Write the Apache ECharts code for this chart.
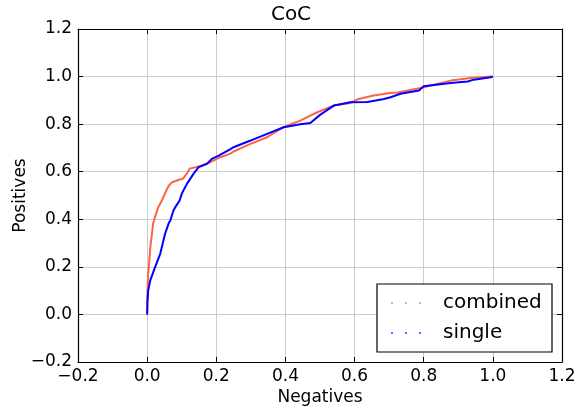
<!DOCTYPE html>
<html>
<head>
<meta charset="utf-8">
<script src="https://cdn.jsdelivr.net/npm/echarts@6/dist/echarts.min.js"></script>
<style>html,body{margin:0;padding:0;background:#fff}#c{width:582px;height:408px}</style>
</head>
<body>
<div id="c"></div>
<script>
var titleText = 'CoC';
var xName = 'Negatives';
var yName = 'Positives';
var seriesNames = ['combined', 'single'];
var axisMin = -0.2, axisMax = 1.2, axisStep = 0.2;

var combinedX = [0, 0.0, 0.001, 0.003, 0.006, 0.009, 0.014, 0.017, 0.023, 0.032, 0.043, 0.052, 0.062, 0.072, 0.09, 0.104, 0.115, 0.123, 0.154, 0.183, 0.202, 0.212, 0.241, 0.25, 0.299, 0.347, 0.394, 0.443, 0.492, 0.539, 0.588, 0.612, 0.655, 0.704, 0.724, 0.791, 0.878, 0.936, 0.994, 1.0];
var combinedY = [0, 0.05, 0.10, 0.17, 0.22, 0.28, 0.34, 0.38, 0.41, 0.45, 0.48, 0.51, 0.54, 0.556, 0.565, 0.571, 0.592, 0.613, 0.624, 0.64, 0.654, 0.661, 0.676, 0.685, 0.717, 0.745, 0.787, 0.815, 0.85, 0.878, 0.889, 0.906, 0.92, 0.931, 0.933, 0.952, 0.983, 0.994, 1.0, 1.0];

var singleX = [0, 0.001, 0.003, 0.009, 0.023, 0.038, 0.045, 0.052, 0.062, 0.067, 0.076, 0.081, 0.094, 0.1, 0.115, 0.134, 0.149, 0.173, 0.187, 0.207, 0.241, 0.25, 0.299, 0.347, 0.395, 0.443, 0.472, 0.501, 0.54, 0.588, 0.637, 0.685, 0.704, 0.733, 0.786, 0.8, 0.878, 0.927, 0.945, 0.994, 1.0];
var singleY = [0, 0.05, 0.10, 0.143, 0.199, 0.256, 0.298, 0.34, 0.382, 0.395, 0.437, 0.45, 0.479, 0.507, 0.549, 0.591, 0.619, 0.633, 0.654, 0.668, 0.695, 0.703, 0.731, 0.759, 0.787, 0.8, 0.805, 0.84, 0.878, 0.892, 0.893, 0.906, 0.913, 0.928, 0.941, 0.959, 0.973, 0.979, 0.987, 0.997, 1.0];

function zip(xs, ys) { return xs.map(function (x, i) { return [x, ys[i]]; }); }
function fmt(v) { var s = v.toFixed(1); return s.charAt(0) === '-' ? '\u2212' + s.slice(1) : s; }

var FONT = 'DejaVu Sans';
var tickBase = {
  type: 'value', min: axisMin, max: axisMax, interval: axisStep,
  axisLine: { show: true, onZero: false, lineStyle: { color: '#000', width: 1.2 } },
  axisTick: { show: true, inside: true, length: 5, lineStyle: { color: '#000', width: 1 } }
};
function mk(extra) { return Object.assign({}, JSON.parse(JSON.stringify(tickBase)), extra); }

var chart = echarts.init(document.getElementById('c'), null, { renderer: 'canvas' });
chart.setOption({
  animation: false,
  backgroundColor: '#fff',
  title: { text: titleText, left: 'center', top: 5, padding: 0,
    textStyle: { fontFamily: FONT, fontWeight: 'normal', fontSize: 20, color: '#000' } },
  grid: { left: 78, right: 20, top: 29, bottom: 46, containLabel: false, outerBoundsMode: 'none' },
  xAxis: [
    mk({ position: 'bottom', name: xName, nameLocation: 'middle', nameGap: 27, nameMoveOverlap: false,
      nameTextStyle: { fontFamily: FONT, fontSize: 17, color: '#000' },
      axisLabel: { show: true, margin: 6, fontFamily: FONT, fontSize: 17, color: '#000', formatter: fmt },
      splitLine: { show: true, lineStyle: { color: '#cbcbcb', width: 1 } } }),
    mk({ position: 'top', axisLabel: { show: false }, splitLine: { show: false } })
  ],
  yAxis: [
    mk({ position: 'left', name: yName, nameLocation: 'middle', nameGap: 49, nameMoveOverlap: false,
      nameTextStyle: { fontFamily: FONT, fontSize: 17, color: '#000' },
      axisLabel: { show: true, margin: 6, fontFamily: FONT, fontSize: 17, color: '#000', formatter: fmt },
      splitLine: { show: true, lineStyle: { color: '#cbcbcb', width: 1 } } }),
    mk({ position: 'right', axisLabel: { show: false }, splitLine: { show: false } })
  ],
  graphic: [{
    type: 'rect', z: 3, shape: { x: 377, y: 284, width: 175, height: 68 },
    style: { fill: '#fff', stroke: '#000', lineWidth: 1.2 }
  }],
  legend: {
    z: 5, orient: 'vertical', left: 391, top: 291, padding: 0,
    itemWidth: 30, itemHeight: 2, itemGap: 6,
    icon: 'path://M0,0h2v2h-2zM14,0h2v2h-2zM28,0h2v2h-2z',
    itemStyle: { opacity: 0.6 },
    textStyle: { fontFamily: FONT, fontSize: 20, color: '#000', lineHeight: 24, padding: [0, 0, 0, 17] },
    data: seriesNames
  },
  series: [
    { name: seriesNames[0], type: 'line', showSymbol: false, symbol: 'none', z: 2,
      color: '#ff6347', lineStyle: { color: '#ff6347', width: 2 }, data: zip(combinedX, combinedY) },
    { name: seriesNames[1], type: 'line', showSymbol: false, symbol: 'none', z: 3,
      color: '#0000ff', lineStyle: { color: '#0000ff', width: 2 }, data: zip(singleX, singleY) }
  ]
});
</script>
</body>
</html>
